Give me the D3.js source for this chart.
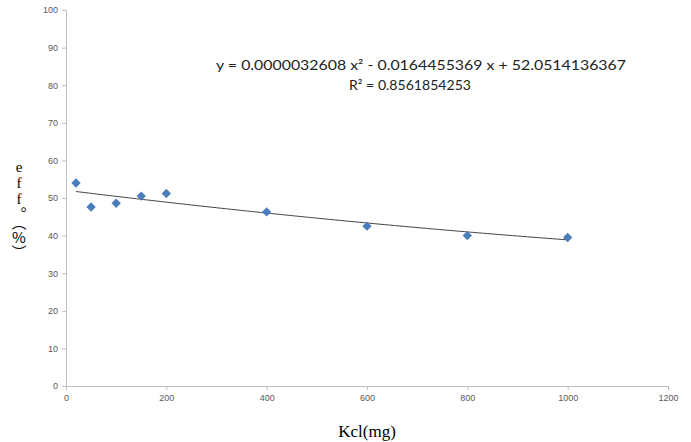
<!DOCTYPE html>
<html><head><meta charset="utf-8">
<script src="https://cdn.jsdelivr.net/npm/d3@7"></script>
<style>body{margin:0;background:#fff;}svg{display:block;}</style>
</head><body>
<svg id="c" width="691" height="442"></svg>
<script>
const kclValues = [20, 50, 100, 150, 200, 400, 600, 800, 1000];
const effValues = [54.0, 47.6, 48.6, 50.5, 51.2, 46.3, 42.5, 40.0, 39.5];
const xTicks = [0, 200, 400, 600, 800, 1000, 1200];
const yTicks = [0, 10, 20, 30, 40, 50, 60, 70, 80, 90, 100];
const trendCoef = [52.0514136367, -0.0164455369, 0.0000032608];
const equationText = "y = 0.0000032608 x² - 0.0164455369 x + 52.0514136367";
const r2Text = "R² = 0.8561854253";
const xLabel = "Kcl(mg)";
const yLabelParts = ["eff", "。（%）"];

const svg = d3.select("#c");
const x = d3.scaleLinear().domain([0, 1200]).range([66, 668]);
const y = d3.scaleLinear().domain([0, 100]).range([386, 10]);

const axisColor = "#bfbfbf";
const labelColor = "#595959";

const gx = svg.append("g").attr("transform", `translate(0,${y(0)})`)
  .call(d3.axisBottom(x).tickValues(xTicks).tickFormat(d3.format("d")).tickSize(4).tickSizeOuter(0).tickPadding(5));
const gy = svg.append("g").attr("transform", `translate(${x(0)},0)`)
  .call(d3.axisLeft(y).tickValues(yTicks).tickFormat(d3.format("d")).tickSize(4).tickSizeOuter(0).tickPadding(4));
[gx, gy].forEach(g => {
  g.select(".domain").attr("stroke", axisColor);
  g.selectAll(".tick line").attr("stroke", axisColor);
  g.selectAll(".tick text").attr("fill", labelColor).style("font-family", "Liberation Sans, Arial, sans-serif").style("font-size", "9px");
});

// trendline
const trendX = d3.range(kclValues[0], kclValues[kclValues.length - 1] + 0.1, 5);
const poly = v => trendCoef[0] + trendCoef[1] * v + trendCoef[2] * v * v;
svg.append("path")
  .datum(trendX)
  .attr("fill", "none").attr("stroke", "#404040").attr("stroke-width", 1)
  .attr("d", d3.line().x(d => x(d)).y(d => y(poly(d))));

// points
svg.append("g").selectAll("path").data(kclValues).join("path")
  .attr("transform", (d, i) => `translate(${x(d)},${y(effValues[i])}) rotate(45)`)
  .attr("d", "M-3.3,-3.3H3.3V3.3H-3.3Z")
  .attr("fill", "#4a7ebb");

// equation
svg.append("text").attr("x", 216).attr("y", 70)
  .style("font-family", "Lato, Open Sans, sans-serif").style("font-size", "14px").attr("fill", "#222")
  .attr("textLength", 410).attr("lengthAdjust", "spacingAndGlyphs")
  .text(equationText);
svg.append("text").attr("x", 349).attr("y", 90)
  .style("font-family", "Lato, Open Sans, sans-serif").style("font-size", "14px").attr("fill", "#222")
  .attr("textLength", 122).attr("lengthAdjust", "spacingAndGlyphs")
  .text(r2Text);

// x label
svg.append("text").attr("x", 367).attr("y", 437).attr("text-anchor", "middle")
  .style("font-family", "Liberation Serif, Times New Roman, serif").style("font-size", "17px").attr("fill", "#000")
  .text(xLabel);

// y label, vertical writing
const yl = svg.append("text").attr("x", 19).attr("y", 159)
  .style("font-size", "15px")
  .style("writing-mode", "vertical-rl").style("text-orientation", "upright")
  .attr("fill", "#000");
yl.append("tspan").style("font-family", "'Liberation Serif', serif").text(yLabelParts[0]);
yl.append("tspan").style("font-family", "'Noto Sans CJK JP'").text(yLabelParts[1]);
</script>
</body></html>
